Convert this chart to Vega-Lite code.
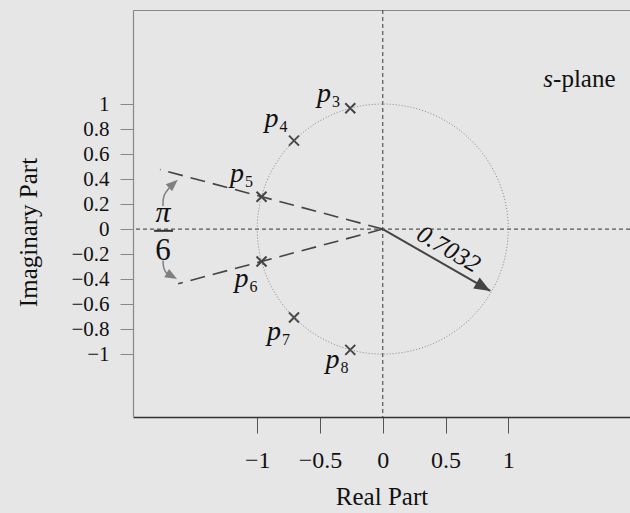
{
  "$schema": "https://vega.github.io/schema/vega-lite/v6.json",
  "width": 497,
  "height": 407,
  "autosize": "none",
  "padding": {"left": 133, "top": 10, "right": 0, "bottom": 96},
  "background": "#e6e6e6",
  "config": {"view": {"stroke": null}, "font": "Liberation Serif"},
  "resolve": {"axis": {"x": "independent", "y": "independent"}},
  "datasets": {
    "circle": [
      {"k": 0, "x": 1, "y": 0}, {"k": 1, "x": 0.9659, "y": 0.2588}, {"k": 2, "x": 0.866, "y": 0.5},
      {"k": 3, "x": 0.7071, "y": 0.7071}, {"k": 4, "x": 0.5, "y": 0.866}, {"k": 5, "x": 0.2588, "y": 0.9659},
      {"k": 6, "x": 0, "y": 1}, {"k": 7, "x": -0.2588, "y": 0.9659}, {"k": 8, "x": -0.5, "y": 0.866},
      {"k": 9, "x": -0.7071, "y": 0.7071}, {"k": 10, "x": -0.866, "y": 0.5}, {"k": 11, "x": -0.9659, "y": 0.2588},
      {"k": 12, "x": -1, "y": 0}, {"k": 13, "x": -0.9659, "y": -0.2588}, {"k": 14, "x": -0.866, "y": -0.5},
      {"k": 15, "x": -0.7071, "y": -0.7071}, {"k": 16, "x": -0.5, "y": -0.866}, {"k": 17, "x": -0.2588, "y": -0.9659},
      {"k": 18, "x": 0, "y": -1}, {"k": 19, "x": 0.2588, "y": -0.9659}, {"k": 20, "x": 0.5, "y": -0.866},
      {"k": 21, "x": 0.7071, "y": -0.7071}, {"k": 22, "x": 0.866, "y": -0.5}, {"k": 23, "x": 0.9659, "y": -0.2588}
    ],
    "poles": [
      {"x": -0.2588, "y": 0.9659, "n": "3", "lx": -0.468, "ly": 1.016},
      {"x": -0.7071, "y": 0.7071, "n": "4", "lx": -0.886, "ly": 0.816},
      {"x": -0.9659, "y": 0.2588, "n": "5", "lx": -1.161, "ly": 0.377},
      {"x": -0.9659, "y": -0.2588, "n": "6", "lx": -1.125, "ly": -0.462},
      {"x": -0.7071, "y": -0.7071, "n": "7", "lx": -0.866, "ly": -0.885},
      {"x": -0.2588, "y": -0.9659, "n": "8", "lx": -0.4, "ly": -1.109}
    ],
    "rays": [
      {"id": "up", "k": 0, "x": 0, "y": 0}, {"id": "up", "k": 1, "x": -1.775, "y": 0.476},
      {"id": "dn", "k": 0, "x": 0, "y": 0}, {"id": "dn", "k": 1, "x": -1.63, "y": -0.437}
    ],
    "vec": [{"k": 0, "x": 0, "y": 0}, {"k": 1, "x": 0.857, "y": -0.495}],
    "vecHead": [{"x": 0.857, "y": -0.495}],
    "curveUp": [{"k": 0, "x": -1.751, "y": 0.184}, {"k": 1, "x": -1.743, "y": 0.265}, {"k": 2, "x": -1.7, "y": 0.33}],
    "curveUpHead": [{"x": -1.633, "y": 0.395}],
    "curveDn": [{"k": 0, "x": -1.751, "y": -0.252}, {"k": 1, "x": -1.743, "y": -0.318}, {"k": 2, "x": -1.716, "y": -0.36}],
    "curveDnHead": [{"x": -1.639, "y": -0.4}],
    "zero": [{"x": 0, "y": 0}],
    "frac": [{"x": -1.822, "x2": -1.671, "y": -0.014}],
    "pi": [{"x": -1.751, "y": 0.058, "t": "π"}],
    "six": [{"x": -1.751, "y": -0.246, "t": "6"}],
    "sl": [{"x": 1.357, "y": 1.136, "a": "s", "b": "-plane"}],
    "mag": [{"x": 0.525, "y": -0.16, "t": "0.7032"}]
  },
  "layer": [
    {
      "data": {"name": "poles"},
      "mark": {"type": "point", "shape": "M-1,-1L1,1M-1,1L1,-1", "filled": false, "color": "#444", "opacity": 1, "size": 100, "strokeWidth": 2},
      "encoding": {
        "x": {"field": "x", "type": "quantitative", "scale": {"domain": [-1.99, 1.97], "nice": false, "zero": false},
          "axis": {"orient": "bottom", "values": [-1, -0.5, 0, 0.5, 1], "format": "~g", "grid": false,
            "labelExpr": "datum.value == -1 ? datum.label + '\u00a0\u00a0\u00a0' : datum.value < 0 ? datum.label + '\u00a0\u00a0\u00a0\u00a0\u00a0' : datum.label",
            "domainColor": "#333", "domainWidth": 1.5, "tickColor": "#555", "tickSize": 16, "tickWidth": 1,
            "labelFont": "Liberation Serif", "labelFontSize": 24, "labelColor": "#111", "labelPadding": 15,
            "title": "Real Part", "titleFont": "Liberation Serif", "titleFontSize": 25, "titleFontWeight": "normal", "titleColor": "#111",
            "titleY": 87, "titleBaseline": "alphabetic"}},
        "y": {"field": "y", "type": "quantitative", "scale": {"domain": [-1.503, 1.752], "nice": false, "zero": false},
          "axis": {"orient": "left", "values": [-1, -0.8, -0.6, -0.4, -0.2, 0, 0.2, 0.4, 0.6, 0.8, 1], "format": "~g", "grid": false,
            "domainColor": "#888", "domainWidth": 1.2, "tickColor": "#888", "tickSize": 13, "tickWidth": 1,
            "labelFont": "Liberation Serif", "labelFontSize": 21, "labelColor": "#111", "labelPadding": 11,
            "title": "Imaginary Part", "titleFont": "Liberation Serif", "titleFontSize": 25, "titleFontWeight": "normal", "titleColor": "#111",
            "titleAngle": 270, "titleX": -97, "titleY": 222, "titleBaseline": "alphabetic", "titleAlign": "center"}}
      }
    },
    {
      "data": {"name": "zero"},
      "mark": {"type": "rule", "color": "#555", "strokeDash": [4, 3], "strokeWidth": 1.2},
      "encoding": {
        "x": {"field": "x", "type": "quantitative", "scale": {"domain": [-1.99, 1.97], "nice": false, "zero": false},
          "axis": {"orient": "top", "ticks": false, "labels": false, "title": null, "grid": false, "domainColor": "#888", "domainWidth": 1.2}}
      }
    },
    {
      "data": {"name": "zero"},
      "mark": {"type": "rule", "color": "#555", "strokeDash": [4, 3], "strokeWidth": 1.2},
      "encoding": {
        "y": {"field": "y", "type": "quantitative", "scale": {"domain": [-1.503, 1.752], "nice": false, "zero": false}, "axis": null}
      }
    },
    {
      "data": {"name": "circle"},
      "mark": {"type": "line", "interpolate": "cardinal-closed", "color": "#888", "strokeWidth": 1, "strokeDash": [1, 2]},
      "encoding": {
        "x": {"field": "x", "type": "quantitative", "scale": {"domain": [-1.99, 1.97], "nice": false, "zero": false}, "axis": null},
        "y": {"field": "y", "type": "quantitative", "scale": {"domain": [-1.503, 1.752], "nice": false, "zero": false}, "axis": null},
        "order": {"field": "k"}
      }
    },
    {
      "data": {"name": "rays"},
      "mark": {"type": "line", "color": "#444", "strokeWidth": 1.6, "strokeDash": [15, 8]},
      "encoding": {
        "x": {"field": "x", "type": "quantitative", "scale": {"domain": [-1.99, 1.97], "nice": false, "zero": false}, "axis": null},
        "y": {"field": "y", "type": "quantitative", "scale": {"domain": [-1.503, 1.752], "nice": false, "zero": false}, "axis": null},
        "detail": {"field": "id"},
        "order": {"field": "k"}
      }
    },
    {
      "data": {"name": "vec"},
      "mark": {"type": "line", "color": "#444", "strokeWidth": 2},
      "encoding": {
        "x": {"field": "x", "type": "quantitative", "scale": {"domain": [-1.99, 1.97], "nice": false, "zero": false}, "axis": null},
        "y": {"field": "y", "type": "quantitative", "scale": {"domain": [-1.503, 1.752], "nice": false, "zero": false}, "axis": null},
        "order": {"field": "k"}
      }
    },
    {
      "data": {"name": "vecHead"},
      "mark": {"type": "point", "shape": "M-2,-0.8L0,0L-2,0.8Z", "filled": true, "color": "#444", "opacity": 1, "size": 256, "angle": 30},
      "encoding": {
        "x": {"field": "x", "type": "quantitative", "scale": {"domain": [-1.99, 1.97], "nice": false, "zero": false}, "axis": null},
        "y": {"field": "y", "type": "quantitative", "scale": {"domain": [-1.503, 1.752], "nice": false, "zero": false}, "axis": null}
      }
    },
    {
      "data": {"name": "curveUp"},
      "mark": {"type": "line", "interpolate": "cardinal", "color": "#808080", "strokeWidth": 1.5},
      "encoding": {
        "x": {"field": "x", "type": "quantitative", "scale": {"domain": [-1.99, 1.97], "nice": false, "zero": false}, "axis": null},
        "y": {"field": "y", "type": "quantitative", "scale": {"domain": [-1.503, 1.752], "nice": false, "zero": false}, "axis": null},
        "order": {"field": "k"}
      }
    },
    {
      "data": {"name": "curveDn"},
      "mark": {"type": "line", "interpolate": "cardinal", "color": "#808080", "strokeWidth": 1.5},
      "encoding": {
        "x": {"field": "x", "type": "quantitative", "scale": {"domain": [-1.99, 1.97], "nice": false, "zero": false}, "axis": null},
        "y": {"field": "y", "type": "quantitative", "scale": {"domain": [-1.503, 1.752], "nice": false, "zero": false}, "axis": null},
        "order": {"field": "k"}
      }
    },
    {
      "data": {"name": "curveUpHead"},
      "mark": {"type": "point", "shape": "M-2,-0.8L0,0L-2,0.8Z", "filled": true, "color": "#808080", "opacity": 1, "size": 144, "angle": -42},
      "encoding": {
        "x": {"field": "x", "type": "quantitative", "scale": {"domain": [-1.99, 1.97], "nice": false, "zero": false}, "axis": null},
        "y": {"field": "y", "type": "quantitative", "scale": {"domain": [-1.503, 1.752], "nice": false, "zero": false}, "axis": null}
      }
    },
    {
      "data": {"name": "curveDnHead"},
      "mark": {"type": "point", "shape": "M-2,-0.8L0,0L-2,0.8Z", "filled": true, "color": "#808080", "opacity": 1, "size": 144, "angle": 30},
      "encoding": {
        "x": {"field": "x", "type": "quantitative", "scale": {"domain": [-1.99, 1.97], "nice": false, "zero": false}, "axis": null},
        "y": {"field": "y", "type": "quantitative", "scale": {"domain": [-1.503, 1.752], "nice": false, "zero": false}, "axis": null}
      }
    },
    {
      "data": {"name": "frac"},
      "mark": {"type": "rule", "color": "#333", "strokeWidth": 2},
      "encoding": {
        "x": {"field": "x", "type": "quantitative", "scale": {"domain": [-1.99, 1.97], "nice": false, "zero": false}, "axis": null},
        "x2": {"field": "x2"},
        "y": {"field": "y", "type": "quantitative", "scale": {"domain": [-1.503, 1.752], "nice": false, "zero": false}, "axis": null}
      }
    },
    {
      "data": {"name": "poles"},
      "mark": {"type": "text", "text": "p", "font": "Liberation Serif", "fontStyle": "italic", "fontSize": 28, "color": "#111", "align": "center", "baseline": "alphabetic"},
      "encoding": {
        "x": {"field": "lx", "type": "quantitative", "scale": {"domain": [-1.99, 1.97], "nice": false, "zero": false}, "axis": null},
        "y": {"field": "ly", "type": "quantitative", "scale": {"domain": [-1.503, 1.752], "nice": false, "zero": false}, "axis": null}
      }
    },
    {
      "data": {"name": "poles"},
      "mark": {"type": "text", "font": "Liberation Serif", "fontSize": 16, "color": "#111", "align": "left", "baseline": "alphabetic", "dx": 8, "dy": 5},
      "encoding": {
        "x": {"field": "lx", "type": "quantitative", "scale": {"domain": [-1.99, 1.97], "nice": false, "zero": false}, "axis": null},
        "y": {"field": "ly", "type": "quantitative", "scale": {"domain": [-1.503, 1.752], "nice": false, "zero": false}, "axis": null},
        "text": {"field": "n"}
      }
    },
    {
      "data": {"name": "pi"},
      "mark": {"type": "text", "font": "Liberation Serif", "fontStyle": "italic", "fontSize": 30, "color": "#111", "align": "center", "baseline": "alphabetic"},
      "encoding": {
        "x": {"field": "x", "type": "quantitative", "scale": {"domain": [-1.99, 1.97], "nice": false, "zero": false}, "axis": null},
        "y": {"field": "y", "type": "quantitative", "scale": {"domain": [-1.503, 1.752], "nice": false, "zero": false}, "axis": null},
        "text": {"field": "t"}
      }
    },
    {
      "data": {"name": "six"},
      "mark": {"type": "text", "font": "Liberation Serif", "fontSize": 31, "color": "#111", "align": "center", "baseline": "alphabetic"},
      "encoding": {
        "x": {"field": "x", "type": "quantitative", "scale": {"domain": [-1.99, 1.97], "nice": false, "zero": false}, "axis": null},
        "y": {"field": "y", "type": "quantitative", "scale": {"domain": [-1.503, 1.752], "nice": false, "zero": false}, "axis": null},
        "text": {"field": "t"}
      }
    },
    {
      "data": {"name": "sl"},
      "mark": {"type": "text", "font": "Liberation Serif", "fontStyle": "italic", "fontSize": 25, "color": "#111", "align": "right", "baseline": "alphabetic"},
      "encoding": {
        "x": {"field": "x", "type": "quantitative", "scale": {"domain": [-1.99, 1.97], "nice": false, "zero": false}, "axis": null},
        "y": {"field": "y", "type": "quantitative", "scale": {"domain": [-1.503, 1.752], "nice": false, "zero": false}, "axis": null},
        "text": {"field": "a"}
      }
    },
    {
      "data": {"name": "sl"},
      "mark": {"type": "text", "font": "Liberation Serif", "fontSize": 25, "color": "#111", "align": "left", "baseline": "alphabetic"},
      "encoding": {
        "x": {"field": "x", "type": "quantitative", "scale": {"domain": [-1.99, 1.97], "nice": false, "zero": false}, "axis": null},
        "y": {"field": "y", "type": "quantitative", "scale": {"domain": [-1.503, 1.752], "nice": false, "zero": false}, "axis": null},
        "text": {"field": "b"}
      }
    },
    {
      "data": {"name": "mag"},
      "mark": {"type": "text", "font": "Liberation Serif", "fontStyle": "italic", "fontSize": 25, "color": "#111", "align": "center", "baseline": "middle", "angle": 30},
      "encoding": {
        "x": {"field": "x", "type": "quantitative", "scale": {"domain": [-1.99, 1.97], "nice": false, "zero": false}, "axis": null},
        "y": {"field": "y", "type": "quantitative", "scale": {"domain": [-1.503, 1.752], "nice": false, "zero": false}, "axis": null},
        "text": {"field": "t"}
      }
    }
  ]
}
